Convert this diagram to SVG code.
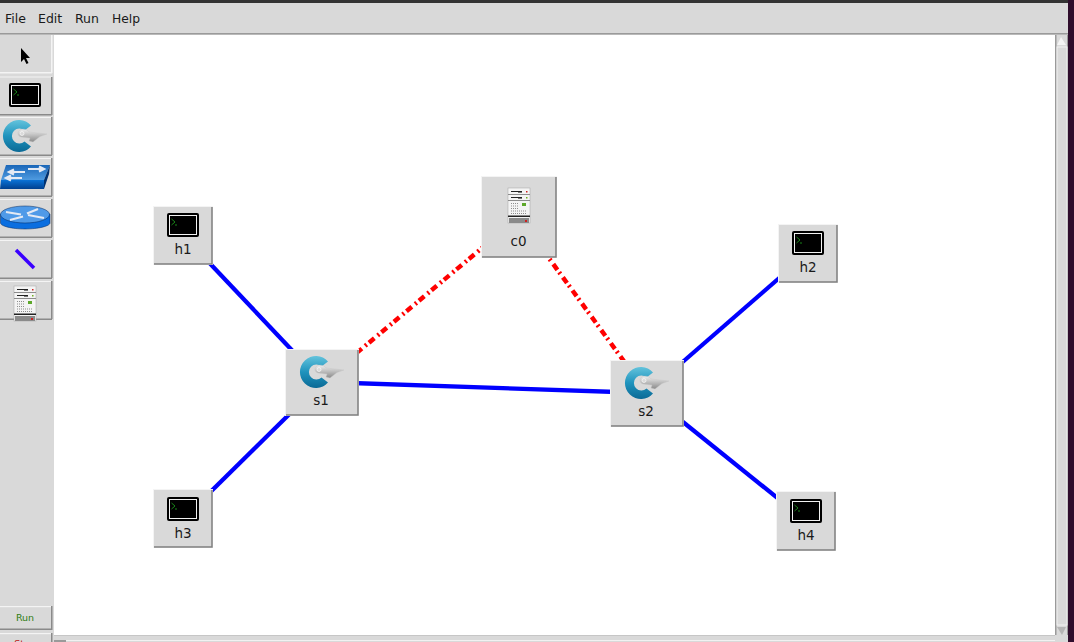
<svg xmlns="http://www.w3.org/2000/svg" width="1074" height="642" viewBox="0 0 1074 642">
<style>
text{font-family:"DejaVu Sans",sans-serif;font-size:12.5px;fill:#1a1a1a}
.lbl{text-anchor:middle;font-size:13.500px}
.eth{stroke:#0000ff;stroke-width:4.300;fill:none}
.ctl{stroke:#ff0000;stroke-width:4.500;fill:none;stroke-dasharray:7 3 2 4.300;stroke-dashoffset:6.900}
.bg{fill:#d9d9d9}
.hi{fill:#f4f4f4}
.lo{fill:#8a8a8a}
.box{fill:#d9d9d9;stroke:#f4f4f4}
.edge{fill:none;stroke:#7f7f7f;stroke-width:1.500}
.arrow{stroke:#e4eaf4;stroke-width:2.200;fill:none}
</style>
<defs>
<linearGradient id="blueRing" x1="0" y1="0" x2="0" y2="1"><stop offset="0" stop-color="#63c3dc"/><stop offset="0.500" stop-color="#1f93bd"/><stop offset="1" stop-color="#0b6a96"/></linearGradient>
<linearGradient id="silver" x1="0" y1="0" x2="0" y2="1"><stop offset="0" stop-color="#eeeeee"/><stop offset="1" stop-color="#8a8a8a"/></linearGradient>
<linearGradient id="swTop" x1="0" y1="0" x2="0" y2="1"><stop offset="0" stop-color="#1a66b8"/><stop offset="1" stop-color="#4f9be0"/></linearGradient>
<linearGradient id="swSide" x1="0" y1="0" x2="0" y2="1"><stop offset="0" stop-color="#0a72d6"/><stop offset="1" stop-color="#00408f"/></linearGradient>
<symbol id="term" overflow="visible">
<rect x="0" y="0" width="32" height="24" rx="2" fill="#000"/>
<rect x="2.500" y="2.500" width="27" height="19" fill="#000" stroke="#f2f2f2" stroke-width="1"/>
<path d="M4.500 6l3.500 3-3.500 3M8 12h2" fill="none" stroke="#1ea51e" stroke-width="0.800"/>
</symbol>
<symbol id="ctrl" overflow="visible">
<path d="M28 5.500A16 16 0 1 0 28 26.500L21.500 21.500A7.500 7.500 0 1 1 21.500 10.500Z" fill="url(#blueRing)"/>
<path d="M16 11C19 8 24 9 26 12L44 14L37 16.500L30 22L26 21L27 18L18 17C15 16 14 13 16 11Z" fill="url(#silver)" stroke="#c4c4c4" stroke-width="0.400"/>
<circle cx="19" cy="13.500" r="2" fill="#d9d9d9" stroke="#ffffff" stroke-width="0.600"/>
</symbol>
<symbol id="host" overflow="visible">
<rect x="0" y="0" width="22" height="35" fill="#f4f4f4" stroke="#a5a5a5" stroke-width="0.500"/>
<rect x="0" y="6" width="22" height="1" fill="#8c8c8c"/>
<rect x="0" y="12" width="22" height="1" fill="#8c8c8c"/>
<rect x="3" y="3" width="11" height="1" fill="#222"/><rect x="10" y="4" width="4" height="1" fill="#777"/><rect x="18" y="3" width="1.500" height="1.500" fill="#d02020"/>
<rect x="3" y="9" width="11" height="1" fill="#222"/><rect x="10" y="10" width="4" height="1" fill="#777"/><rect x="18" y="9" width="1.500" height="1.500" fill="#6fae1f"/>
<path d="M3 15.500h7M3 18h7M3 20.500h7M3 23h15M3 25.500h15" stroke="#8d8d8d" stroke-width="1" stroke-dasharray="1 1"/>
<rect x="14" y="15" width="4" height="3" fill="#5da82a"/>
<rect x="0" y="27.500" width="22" height="1.500" fill="#222"/>
<rect x="1" y="30" width="20" height="5" fill="#8a8a8a"/>
<rect x="17" y="32" width="2" height="2" fill="#d02020"/>
</symbol>
</defs>

<rect id="window" width="1074" height="642" fill="#d9d9d9"/>
<rect width="1074" height="3" fill="#333333"/>
<rect x="1068" y="0" width="6" height="642" fill="#2f0d2c"/>
<rect y="33" width="1068" height="1.500" fill="#9a9a9a"/>
<g id="menu">
<text x="5" y="23">File</text>
<text x="38" y="23">Edit</text>
<text x="75" y="23">Run</text>
<text x="112" y="23" style="font-size:12.300px">Help</text>
</g>
<rect id="canvas" x="54" y="35" width="1001" height="600" fill="#ffffff"/>

<g id="scrollbars">
<rect x="1055" y="35" width="1.500" height="600" fill="#9a9a9a"/>
<rect x="1067" y="35" width="1" height="600" fill="#9a9a9a"/>
<polygon points="1061,37 1066,45 1057,45" fill="#f4f4f4"/>
<rect x="1057" y="47" width="10" height="578" fill="#d9d9d9" stroke="#f1f1f1" stroke-width="1"/>
<polygon points="1062,635 1066,627 1057,627" fill="#b4b4b4"/>
<rect x="54" y="635" width="1001" height="1" fill="#c6c6c6"/>
<rect x="54" y="640" width="1001" height="1" fill="#f1f1f1"/>
<rect x="54" y="640" width="12" height="2" fill="#9a9a9a"/>
</g>

<g id="connectors">
<line class="eth" x1="183" y1="235" x2="322" y2="382"/>
<line class="eth" x1="183" y1="519" x2="322" y2="382"/>
<line class="eth" x1="322" y1="382" x2="647" y2="393"/>
<line class="eth" x1="808" y1="253" x2="647" y2="393"/>
<line class="eth" x1="806" y1="521" x2="647" y2="393"/>
<line class="ctl" x1="519" y1="217" x2="322" y2="382"/>
<line class="ctl" x1="519" y1="217" x2="647" y2="393"/>
</g>

<g id="toolbar">
<g id="tool-select">
<rect x="51" y="35" width="1.500" height="38" fill="#f4f4f4"/><rect y="72" width="52" height="1.500" fill="#f4f4f4"/>
<path d="M21 48v14l3-3 2.500 5 2-1-2.500-5h4z" fill="#000"/>
</g>
<g id="tool-term">
<rect y="76.500" width="52" height="1" class="hi"/><rect x="51" y="77" width="1.500" height="38" class="lo"/><rect y="114" width="52" height="1.500" class="lo"/>
<use href="#term" x="9" y="83"/>
</g>
<g id="tool-ctrl">
<rect y="117" width="52" height="1" class="hi"/><rect x="51" y="117" width="1.500" height="38" class="lo"/><rect y="154.500" width="52" height="1.500" class="lo"/>
<use href="#ctrl" x="3" y="120"/>
</g>
<g id="tool-switch">
<rect y="158" width="52" height="1" class="hi"/><rect x="51" y="158" width="1.500" height="38" class="lo"/><rect y="195.500" width="52" height="1.500" class="lo"/>
<polygon points="6,165 50,165 44,180 1,180" fill="url(#swTop)"/>
<polygon points="1,180 44,180 44,189 0,189" fill="url(#swSide)"/>
<polygon points="44,180 50,165 49,174 44,189" fill="#00316f"/>
<path d="M25 172H10M14 169.500L9 172L14 174.500M28 169H43M39 166.500L44 169L39 171.500M22 178H7M11 175.500L6 178L11 180.500" class="arrow"/>
</g>
<g id="tool-router">
<rect y="199" width="52" height="1" class="hi"/><rect x="51" y="199" width="1.500" height="38" class="lo"/><rect y="236.500" width="52" height="1.500" class="lo"/>
<path d="M0.500 214v9c0 3 11 6 24.500 6s25-3 25-6v-9z" fill="#0a6ee0" stroke="#00265c" stroke-width="0.500"/>
<ellipse cx="25" cy="214.500" rx="24.500" ry="8.500" fill="#4f9ae8" stroke="#00265c" stroke-width="0.500"/>
<path d="M6 212l15 2.500M10 220l13-3.500M44 218l-16-3M38 209l-11 4.500" class="arrow"/>
</g>
<g id="tool-link">
<rect y="240" width="52" height="1" class="hi"/><rect x="51" y="240" width="1.500" height="38" class="lo"/><rect y="277.500" width="52" height="1.500" class="lo"/>
<line x1="16" y1="250" x2="34" y2="268" stroke="#3a00ff" stroke-width="3.500"/>
</g>
<g id="tool-host">
<rect y="281" width="52" height="1" class="hi"/><rect x="51" y="281" width="1.500" height="38" class="lo"/><rect y="318.500" width="52" height="1.500" class="lo"/>
<use href="#host" x="14" y="286"/>
</g>
<g id="btn-run">
<rect y="606" width="52" height="1.200" class="hi"/><rect x="51" y="606" width="1.500" height="24" class="lo"/><rect y="628.500" width="52" height="1.500" class="lo"/>
<text x="25" y="621" text-anchor="middle" style="font-size:9.500px;fill:#2f7d12">Run</text>
</g>
<g id="btn-stop">
<rect y="633" width="52" height="1.200" class="hi"/><rect x="51" y="633" width="1.500" height="9" class="lo"/>
<text x="25" y="647" text-anchor="middle" style="font-size:9.500px;fill:#c01010">Stop</text>
</g>
</g>

<g id="c0">
<rect x="481.500" y="176.500" width="75" height="81" class="box"/>
<path d="M556 177v80h-74" class="edge"/>
<use href="#host" x="508" y="188"/>
<text x="518.500" y="246" class="lbl">c0</text>
</g>
<g id="h1">
<rect x="153.500" y="206.500" width="59" height="58" class="box"/>
<path d="M212 207v57h-58" class="edge"/>
<use href="#term" x="167" y="213"/>
<text x="183" y="254" class="lbl">h1</text>
</g>
<g id="h2">
<rect x="778.500" y="224.500" width="59" height="58" class="box"/>
<path d="M837 225v57h-58" class="edge"/>
<use href="#term" x="792" y="231"/>
<text x="808" y="272" class="lbl">h2</text>
</g>
<g id="h3">
<rect x="153.500" y="489.500" width="59" height="58" class="box"/>
<path d="M212 490v57h-58" class="edge"/>
<use href="#term" x="167" y="497"/>
<text x="183" y="538" class="lbl">h3</text>
</g>
<g id="h4">
<rect x="776.500" y="491.500" width="59" height="59" class="box"/>
<path d="M835 492v58h-58" class="edge"/>
<use href="#term" x="790" y="499"/>
<text x="806" y="540" class="lbl">h4</text>
</g>
<g id="s1">
<rect x="285.500" y="349.500" width="73" height="66" class="box"/>
<path d="M358 350v65h-72" class="edge"/>
<use href="#ctrl" x="300" y="356"/>
<text x="321" y="405" class="lbl">s1</text>
</g>
<g id="s2">
<rect x="610.500" y="360.500" width="73" height="66" class="box"/>
<path d="M683 361v65h-72" class="edge"/>
<use href="#ctrl" x="625" y="367"/>
<text x="646" y="416" class="lbl">s2</text>
</g>
</svg>
